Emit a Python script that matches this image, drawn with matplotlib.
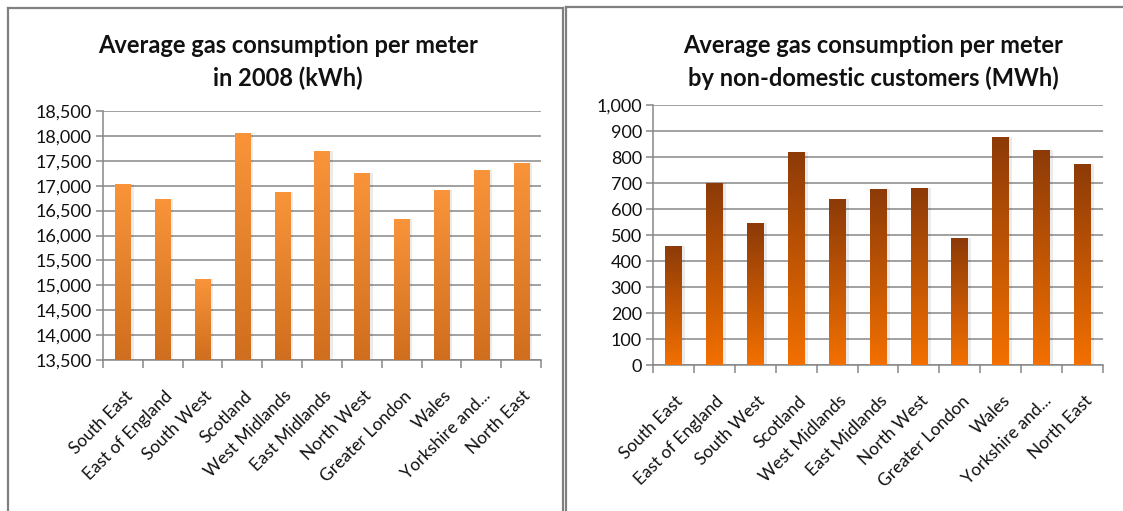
import numpy as np
import matplotlib
matplotlib.use('Agg')
import matplotlib.pyplot as plt
from matplotlib.colors import LinearSegmentedColormap
from matplotlib.ticker import FuncFormatter, MultipleLocator
from matplotlib.lines import Line2D
from matplotlib.transforms import ScaledTranslation

plt.rcParams['font.family'] = ['Lato', 'DejaVu Sans']

regions = ['South East', 'East of England', 'South West', 'Scotland', 'West Midlands',
           'East Midlands', 'North West', 'Greater London', 'Wales', 'Yorkshire and...',
           'North East']

# average gas per meter, 2008 (kWh)
domestic_kwh = [17035, 16740, 15120, 18055, 16880, 17695, 17260, 16335, 16905, 17325, 17465]
# average per meter, non-domestic customers (MWh)
nondomestic_mwh = [459, 699, 545, 820, 637, 678, 682, 488, 878, 828, 775]

title_left = 'Average gas consumption per meter\nin 2008 (kWh)'
title_right = 'Average gas consumption per meter\nby non-domestic customers (MWh)'

W, H = 1123, 511
fig = plt.figure(figsize=(W / 100, H / 100), dpi=100)
fig.patch.set_facecolor('white')

def px_axes(x0, y0, x1, y1):
    # pixel box (top-left origin) -> axes
    return fig.add_axes([x0 / W, (H - y1) / H, (x1 - x0) / W, (y1 - y0) / H])

grid_col = '#878787'

def gradient_bars(ax, values, ymin, top_col, bot_col, width):
    cmap = LinearSegmentedColormap.from_list('g', [bot_col, top_col])
    x = np.arange(len(values))
    bars = ax.bar(x, np.array(values) - ymin, bottom=ymin, width=width,
                  color='none', edgecolor='none', zorder=3)
    grad = np.linspace(0, 1, 256).reshape(-1, 1)
    for b in bars:
        bx, by = b.get_x(), b.get_y()
        bw, bh = b.get_width(), b.get_height()
        # soft shadow on the right/bottom
        ax.bar(bx + bw / 2 + 0.05, bh, bottom=by, width=bw + 0.06,
               color='#000000', alpha=0.08, zorder=2, linewidth=0)
        im = ax.imshow(grad, cmap=cmap, origin='lower', aspect='auto',
                       extent=(bx, bx + bw, by, by + bh), zorder=3)
        im.set_clip_path(b)
    return bars

def style_axes(ax, ymin, ymax, step, n):
    ax.set_xlim(-0.5, n - 0.5)
    ax.set_ylim(ymin, ymax)
    ax.yaxis.set_major_locator(MultipleLocator(step))
    ax.yaxis.set_major_formatter(FuncFormatter(lambda v, p: f'{v:,.0f}'))
    ax.grid(axis='y', color=grid_col, linewidth=1.1, zorder=0)
    ax.set_axisbelow(True)
    for s in ['top', 'right']:
        ax.spines[s].set_visible(False)
    for s in ['left', 'bottom']:
        ax.spines[s].set_color(grid_col)
        ax.spines[s].set_linewidth(1.1)
    ax.tick_params(axis='y', length=5, width=1.1, color=grid_col, labelsize=13,
                   pad=3, labelcolor='#111111')
    # category boundaries carry the x ticks
    ax.set_xticks(np.arange(n + 1) - 0.5, minor=False)
    ax.set_xticklabels([])
    ax.tick_params(axis='x', which='major', length=6, width=1.1, color=grid_col)
    ax.set_xticks(np.arange(n), minor=True)
    labels = ax.set_xticklabels(regions, minor=True, rotation=45, ha='right', va='center',
                                rotation_mode='anchor', fontsize=12.5, color='#111111')
    ax.tick_params(axis='x', which='minor', length=0, pad=24)
    shift = ScaledTranslation(7 / 100, 0, fig.dpi_scale_trans)
    for t in labels:
        t.set_transform(t.get_transform() + shift)

axl = px_axes(103, 111, 541, 360)
style_axes(axl, 13500, 18500, 500, len(regions))
gradient_bars(axl, domestic_kwh, 13500, '#F9943A', '#CF6E1E', 0.38)

axr = px_axes(653, 105, 1103, 365)
style_axes(axr, 0, 1000, 100, len(regions))
gradient_bars(axr, nondomestic_mwh, 0, '#8C3A08', '#F37000', 0.41)

fig.text(288 / W, 1 - 62 / H, title_left, ha='center', va='center',
         fontsize=17, fontweight='bold', linespacing=1.45, color='#111111')
fig.text(873 / W, 1 - 62 / H, title_right, ha='center', va='center',
         fontsize=17, fontweight='bold', linespacing=1.45, color='#111111')

# panel frames
frame = dict(color='#808080', linewidth=1.6, transform=fig.transFigure)
def seg(x0, y0, x1, y1):
    fig.add_artist(Line2D([x0 / W, x1 / W], [1 - y0 / H, 1 - y1 / H], **frame))

seg(8, 8, 8, H)
seg(8, 8, 563, 8)
seg(563, 8, 563, H)
seg(566, 7, 566, H)
seg(566, 7, W, 7)

fig.savefig('out.png', dpi=100, facecolor='white')
